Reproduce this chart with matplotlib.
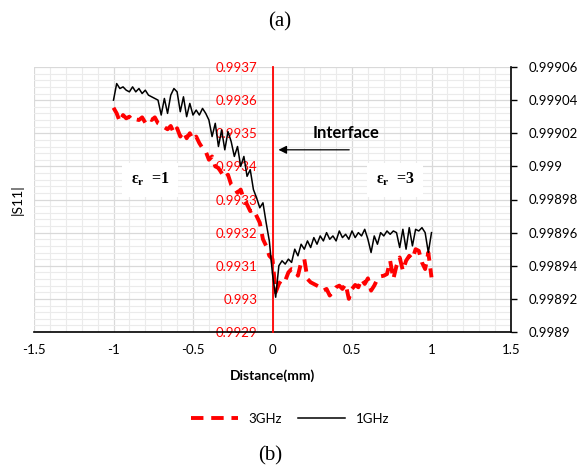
import numpy as np
import matplotlib
matplotlib.use("Agg")
import matplotlib.pyplot as plt
from matplotlib.ticker import MultipleLocator, FixedLocator

plt.rcParams['font.family'] = ['Lato', 'DejaVu Sans']
plt.rcParams['mathtext.fontset'] = 'custom'
plt.rcParams['mathtext.rm'] = 'Liberation Serif:bold'
plt.rcParams['mathtext.it'] = 'Liberation Serif:bold'

# |S11| at 3 GHz (left axis) along the scan, 0.02 mm step from -1 to 1 mm
s11_3ghz = [
    0.993577, 0.993560, 0.993535, 0.993555, 0.993545, 0.993550, 0.993538,
    0.993542, 0.993540, 0.993548, 0.993532, 0.993545, 0.993540, 0.993548,
    0.993530, 0.993525, 0.993518, 0.993512, 0.993522, 0.993500, 0.993515,
    0.993490, 0.993505, 0.993485, 0.993500, 0.993480, 0.993490, 0.993470,
    0.993455, 0.993445, 0.993420, 0.993430, 0.993400, 0.993395, 0.993380,
    0.993365, 0.993375, 0.993345, 0.993335, 0.993320, 0.993330, 0.993300,
    0.993285, 0.993265, 0.993270, 0.993250, 0.993230, 0.993180, 0.993160,
    0.993130, 0.993120, 0.993020, 0.993045, 0.993060, 0.993055, 0.993080,
    0.993090, 0.993088, 0.993070, 0.993110, 0.993120, 0.993060, 0.993050,
    0.993045, 0.993040, 0.993035, 0.993025, 0.993030, 0.993010, 0.993022,
    0.993035, 0.993040, 0.993030, 0.993045, 0.993000, 0.993030, 0.993042,
    0.993035, 0.993060, 0.993045, 0.993062, 0.993025, 0.993040, 0.993060,
    0.993068, 0.993070, 0.993075, 0.993115, 0.993060, 0.993100, 0.993125,
    0.993085, 0.993115, 0.993130, 0.993120, 0.993150, 0.993145, 0.993110,
    0.993090, 0.993140, 0.993065,
]

# |S11| at 1 GHz (right axis), same positions
s11_1ghz = [
    0.999040, 0.999050, 0.999047, 0.999048, 0.999046, 0.999045, 0.999048,
    0.999045, 0.999047, 0.999044, 0.999046, 0.999043, 0.999042, 0.999041,
    0.999040, 0.999031, 0.999041, 0.999032, 0.999043, 0.999047, 0.999045,
    0.999033, 0.999042, 0.999030, 0.999038, 0.999031, 0.999034, 0.999031,
    0.999035, 0.999032, 0.999028, 0.999018, 0.999026, 0.999012, 0.999022,
    0.999010, 0.999021, 0.999015, 0.999006, 0.999012, 0.999000, 0.999006,
    0.998994, 0.998998, 0.998986, 0.998981, 0.998975, 0.998978, 0.998966,
    0.998955, 0.998935, 0.998921, 0.998940, 0.998943, 0.998941, 0.998944,
    0.998942, 0.998950, 0.998946, 0.998953, 0.998950, 0.998955, 0.998951,
    0.998957, 0.998953, 0.998958, 0.998955, 0.998960, 0.998956, 0.998958,
    0.998955, 0.998961, 0.998957, 0.998959, 0.998956, 0.998961, 0.998957,
    0.998960, 0.998958, 0.998962, 0.998956, 0.998948, 0.998958, 0.998953,
    0.998960, 0.998958, 0.998961, 0.998959, 0.998961, 0.998960, 0.998951,
    0.998962, 0.998950, 0.998963, 0.998952, 0.998962, 0.998961, 0.998963,
    0.998960, 0.998948, 0.998960,
]

distance = np.linspace(-1.0, 1.0, len(s11_3ghz))

x_ticks = [-1.5, -1, -0.5, 0, 0.5, 1, 1.5]
left_ticks = [0.9929, 0.993, 0.9931, 0.9932, 0.9933, 0.9934, 0.9935, 0.9936, 0.9937]
right_ticks = [0.9989, 0.99892, 0.99894, 0.99896, 0.99898, 0.999, 0.99902, 0.99904, 0.99906]
left_labels = ['0.9929', '0.993', '0.9931', '0.9932', '0.9933', '0.9934', '0.9935', '0.9936', '0.9937']
right_labels = ['0.9989', '0.99892', '0.99894', '0.99896', '0.99898', '0.999', '0.99902', '0.99904', '0.99906']

fig = plt.figure(figsize=(5.82, 4.71), dpi=100)
ax = fig.add_axes([34 / 582, 1 - 332 / 471, 477 / 582, 265 / 471])
ax2 = ax.twinx()

# grid
ax.set_xlim(-1.5, 1.5)
ax.set_ylim(0.9929, 0.9937)
ax.xaxis.set_major_locator(FixedLocator(x_ticks))
ax.xaxis.set_minor_locator(MultipleLocator(0.1))
ax.yaxis.set_major_locator(FixedLocator(left_ticks))
ax.yaxis.set_minor_locator(MultipleLocator(0.00002))
ax.grid(which='major', color='#d9d9d9', lw=0.9)
ax.grid(which='minor', color='#ebebeb', lw=0.8)
ax.set_axisbelow(True)
ax.tick_params(axis='x', which='both', length=0, pad=9, labelsize=9.5)
ax.set_xticklabels(['-1.5', '-1', '-0.5', '0', '0.5', '1', '1.5'])
ax.tick_params(axis='y', which='both', length=0, pad=11, labelsize=9.5,
               labelcolor='#ff0000')
ax.set_yticklabels(left_labels)

for side in ['top', 'right']:
    ax.spines[side].set_visible(False)
ax.spines['left'].set_position(('data', 0))
ax.spines['left'].set_color('#ff0000')
ax.spines['left'].set_linewidth(1.3)
ax.spines['left'].set_zorder(3)
ax.spines['bottom'].set_color('black')
ax.spines['bottom'].set_linewidth(1.2)

ax.set_xlabel('Distance(mm)', fontsize=10, fontweight='bold', labelpad=9)
ax.set_ylabel('|S11|', fontsize=10)
ax.yaxis.set_label_coords(-0.022, 0.5)

l3, = ax.plot(distance, s11_3ghz, color='#ff0000', lw=2.8,
              dashes=(3.2, 2.0), label='3GHz')

ax2.set_ylim(0.9989, 0.99906)
ax2.yaxis.set_major_locator(FixedLocator(right_ticks))
ax2.set_yticklabels(right_labels)
ax2.tick_params(axis='y', length=4, width=1, pad=9, labelsize=9.5)
for side in ['top', 'left', 'bottom']:
    ax2.spines[side].set_visible(False)
ax2.spines['right'].set_linewidth(1.2)
l1, = ax2.plot(distance, s11_1ghz, color='black', lw=1.1, label='1GHz')

# annotations
ax.annotate('', xy=(0.02, 0.99345), xytext=(0.5, 0.99345),
            arrowprops=dict(arrowstyle='-|>', color='black', lw=0.9,
                            mutation_scale=12), zorder=5)
ax.text(0.46, 0.99350, 'Interface', fontsize=12, fontweight='bold',
        ha='center', va='center', zorder=5)
box = dict(facecolor='white', edgecolor='none', pad=6)
ax.text(-0.77, 0.99336, r'$\mathrm{ε_r}$  =1', fontsize=11.5,
        family='Liberation Serif', fontweight='bold',
        ha='center', va='center', bbox=box, zorder=5)
ax.text(0.77, 0.99336, r'$\mathrm{ε_r}$  =3', fontsize=11.5,
        family='Liberation Serif', fontweight='bold',
        ha='center', va='center', bbox=box, zorder=5)

fig.legend(handles=[l3, l1], loc='center', bbox_to_anchor=(290 / 582, 1 - 419 / 471),
           ncol=2, frameon=False, fontsize=9.5, handlelength=3.6, columnspacing=1.2)

fig.text(280 / 582, 1 - 22 / 471, '(a)', family='Liberation Serif', fontsize=15,
         ha='center', va='center')
fig.text(270 / 582, 1 - 456 / 471, '(b)', family='Liberation Serif', fontsize=15,
         ha='center', va='center')

fig.savefig('out.png', dpi=100)
